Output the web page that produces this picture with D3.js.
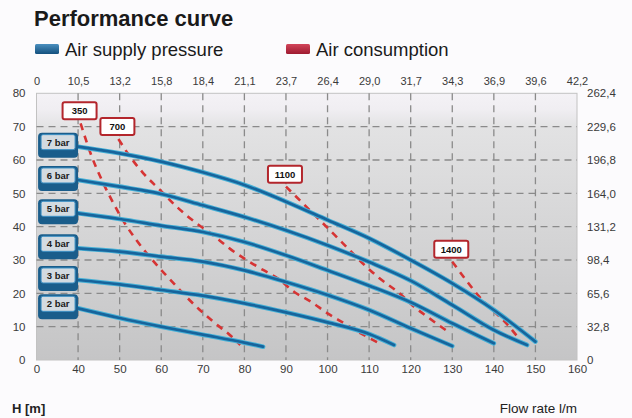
<!DOCTYPE html>
<html><head><meta charset="utf-8">
<script src="https://cdn.jsdelivr.net/npm/d3@7"></script>
<style>
html,body{margin:0;padding:0;background:#fcfbfd;}
svg{display:block;font-family:"Liberation Sans",Arial,sans-serif;}
</style></head>
<body>
<svg id="chart" width="632" height="418"></svg>
<script>
// ---- data ----
const xTicks = [30,40,50,60,70,80,90,100,110,120,130,140,150,160];
const xTickLabels = ["0","40","50","60","70","80","90","100","110","120","130","140","150","160"];
const topTickLabels = ["0","10,5","13,2","15,8","18,4","21,1","23,7","26,4","29,0","31,7","34,3","36,9","39,6","42,2"];
const yTicks = [0,10,20,30,40,50,60,70,80];
const rightTickLabels = ["0","32,8","65,6","98,4","131,2","164,0","196,8","229,6","262,4"];

const pressureNames = ["7 bar","6 bar","5 bar","4 bar","3 bar","2 bar"];
const flow7 = [40,50,60,70,80,90,100,110,120,130,140,150];
const head7 = [64,62,59.5,56.3,52.5,47.5,42,36.5,30,23,15,5.5];
const flow6 = [40,50,60,70,80,90,100,110,120,130,140,148];
const head6 = [54,52,49.8,46.4,42.9,38.9,34.4,29.4,23.8,16.5,9,4.5];
const flow5 = [40,50,60,70,80,90,100,110,120,130,140];
const head5 = [44,42.3,40.3,38.4,35.4,31.4,26.9,22.3,17.3,11,5];
const flow4 = [40,50,60,70,80,90,100,110,120,130];
const head4 = [33.5,32.5,31,29.5,26.9,23.4,19.5,15,9.5,4.2];
const flow3 = [40,50,60,70,80,90,100,110,116];
const head3 = [24,22.7,21,19.3,17,14.3,11.3,7.8,4.5];
const flow2 = [40,50,60,70,80,84.5];
const head2 = [15.5,12.6,10,7.6,5.2,4];

const consumptionNames = ["350","700","1100","1400"];
const flow350 = [40.6,43.3,45.7,48.5,51.5,54,56.5,60,63,66,69.3,72.5,76.5,79];
const head350 = [71,61,54,47,40.5,36,32,27,23,19,15,11.5,7.5,4.5];
const flow700 = [49.7,52.5,55.7,59.7,63.7,68.5,72,76.5,80.5,84.5,88,92,96,100,104,108,112.5];
const head700 = [66.3,61,56,51,46,41,37.9,33.4,30,27,24.5,20.4,17.5,14,11,8,5];
const flow1100 = [90,97.3,103.7,109.3,112.5,117.3,120.5,124.5,129];
const head1100 = [52,43,35,28,24.5,20,16.3,12.5,8.5];
const flow1400 = [130,133.3,136.5,139.7,143,146];
const head1400 = [29.5,24,19,15,11,6.5];

const pressureFlows = [flow7,flow6,flow5,flow4,flow3,flow2];
const pressureHeads = [head7,head6,head5,head4,head3,head2];
const consFlows = [flow350,flow700,flow1100,flow1400];
const consHeads = [head350,head700,head1100,head1400];

// ---- layout ----
const svg = d3.select("#chart");
const L = 36.5, R = 577, T = 93.3, B = 360;
const x = d3.scaleLinear().domain([30,160]).range([L,R]);
const y = d3.scaleLinear().domain([0,80]).range([B,T]);

const defs = svg.append("defs");
const bg = defs.append("linearGradient").attr("id","bg").attr("x1",0).attr("y1",0).attr("x2",0).attr("y2",1);
bg.append("stop").attr("offset","0%").attr("stop-color","#f4f2f6");
bg.append("stop").attr("offset","6%").attr("stop-color","#f0eef2");
bg.append("stop").attr("offset","13%").attr("stop-color","#e2e2e3");
bg.append("stop").attr("offset","100%").attr("stop-color","#c5c5c6");
const blueG = defs.append("linearGradient").attr("id","blueSw").attr("x1",0).attr("y1",0).attr("x2",0).attr("y2",1);
blueG.append("stop").attr("offset","0%").attr("stop-color","#4a8fbf");
blueG.append("stop").attr("offset","100%").attr("stop-color","#13507e");
const redG = defs.append("linearGradient").attr("id","redSw").attr("x1",0).attr("y1",0).attr("x2",0).attr("y2",1);
redG.append("stop").attr("offset","0%").attr("stop-color","#d2455a");
redG.append("stop").attr("offset","100%").attr("stop-color","#9e1a30");

// title & legend
svg.append("text").attr("x",34).attr("y",26).attr("font-size",22).attr("font-weight","bold")
  .attr("fill","#1a1a1a").text("Performance curve");
svg.append("rect").attr("x",35).attr("y",44).attr("width",24).attr("height",10).attr("rx",1.5).attr("fill","url(#blueSw)");
svg.append("text").attr("x",65).attr("y",56).attr("font-size",18.5).attr("fill","#1a1a1a").text("Air supply pressure");
svg.append("rect").attr("x",286).attr("y",44).attr("width",24).attr("height",10).attr("rx",1.5).attr("fill","url(#redSw)");
svg.append("text").attr("x",316).attr("y",56).attr("font-size",18.5).attr("fill","#1a1a1a").text("Air consumption");

// plot background
svg.append("rect").attr("x",L).attr("y",T).attr("width",R-L).attr("height",B-T)
  .attr("fill","url(#bg)").attr("stroke","#c2c2c2").attr("stroke-width",1);

// grid
const grid = svg.append("g").attr("stroke","#8a8a8a").attr("stroke-width",1.3).attr("stroke-dasharray","7,5");
grid.selectAll("line.v").data(xTicks.slice(1,-1)).join("line")
  .attr("x1",d=>x(d)).attr("x2",d=>x(d)).attr("y1",T).attr("y2",B);
grid.selectAll("line.h").data(yTicks.slice(1,-1)).join("line").attr("class","h")
  .attr("x1",L).attr("x2",R).attr("y1",d=>y(d)).attr("y2",d=>y(d));

// axes
const tickFont = size => g => g.call(s=>s.select(".domain").remove()).call(s=>s.selectAll("line").remove())
  .call(s=>s.selectAll("text").attr("font-size",size).attr("fill","#3a3a3a").attr("font-family","'Liberation Sans',Arial,sans-serif"));
svg.append("g").attr("transform",`translate(0,${B})`)
  .call(d3.axisBottom(x).tickValues(xTicks).tickFormat((d,i)=>xTickLabels[i]).tickSize(0).tickPadding(5))
  .call(tickFont(11.5));
svg.append("g").attr("transform",`translate(0,${T})`)
  .call(d3.axisTop(x).tickValues(xTicks).tickFormat((d,i)=>topTickLabels[i]).tickSize(0).tickPadding(8))
  .call(tickFont(11));
svg.append("g").attr("transform",`translate(${L},0)`)
  .call(d3.axisLeft(y).tickValues(yTicks).tickFormat(d=>String(d)).tickSize(0).tickPadding(11))
  .call(tickFont(11.5));
svg.append("g").attr("transform",`translate(${R},0)`)
  .call(d3.axisRight(y).tickValues(yTicks).tickFormat((d,i)=>rightTickLabels[i]).tickSize(0).tickPadding(10))
  .call(tickFont(11.5));

svg.append("text").attr("x",12).attr("y",413).attr("font-size",13).attr("font-weight","bold").attr("fill","#222").text("H [m]");
svg.append("text").attr("x",577).attr("y",413).attr("text-anchor","end").attr("font-size",13.5).attr("fill","#222").text("Flow rate l/m");

const line = d3.line().x(d=>x(d[0])).y(d=>y(d[1])).curve(d3.curveMonotoneX);

// consumption dashed lines
const cons = svg.append("g");
consFlows.forEach((fl,i)=>{
  const pts = fl.map((f,j)=>[f,consHeads[i][j]]);
  cons.append("path").attr("d",line(pts)).attr("fill","none").attr("stroke","#d63434")
    .attr("stroke-width",2.6).attr("stroke-dasharray","7,6");
});

// pressure curves
const pres = svg.append("g");
pressureFlows.forEach((fl,i)=>{
  const pts = fl.map((f,j)=>[f,pressureHeads[i][j]]);
  pres.append("path").attr("d",line(pts)).attr("fill","none").attr("stroke","#45b0d6")
    .attr("stroke-width",4.6).attr("stroke-linecap","round");
  pres.append("path").attr("d",line(pts)).attr("fill","none").attr("stroke","#17649c")
    .attr("stroke-width",2.7).attr("stroke-linecap","round");
});

// consumption labels
consFlows.forEach((fl,i)=>{
  const cx = x(fl[0]) - 1, by = y(consHeads[i][0]) - 4;
  const g = svg.append("g");
  g.append("rect").attr("x",cx-17).attr("y",by-17).attr("width",34).attr("height",17).attr("rx",2)
    .attr("fill","#ffffff").attr("stroke","#b3262c").attr("stroke-width",2);
  g.append("text").attr("x",cx).attr("y",by-5).attr("text-anchor","middle").attr("font-size",9.5)
    .attr("font-weight","bold").attr("fill","#111").text(consumptionNames[i]);
});

// pressure labels
pressureFlows.forEach((fl,i)=>{
  const rx = x(fl[0]), sy = y(pressureHeads[i][0]);
  const g = svg.append("g");
  g.append("rect").attr("x",rx-40).attr("y",sy-14).attr("width",40).attr("height",25).attr("rx",4)
    .attr("fill","#1a5d8b");
  g.append("rect").attr("x",rx-37).attr("y",sy-12).attr("width",34).attr("height",15).attr("rx",2)
    .attr("fill","#d3dbe1").attr("stroke","#3d90c4").attr("stroke-width",1);
  g.append("text").attr("x",rx-20).attr("y",sy-1).attr("text-anchor","middle").attr("font-size",9.5)
    .attr("font-weight","bold").attr("fill","#1a1a1a").text(pressureNames[i]);
});
</script>
</body></html>
